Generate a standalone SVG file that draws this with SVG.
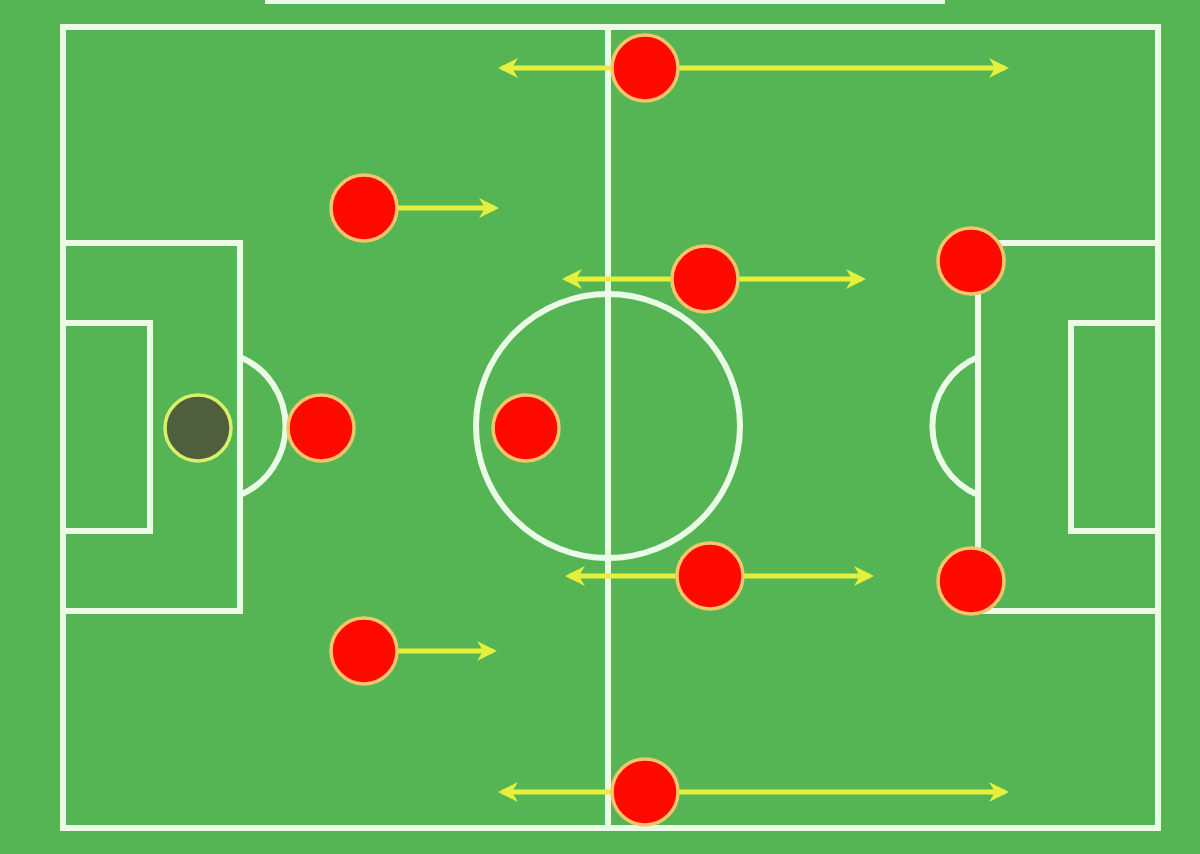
<svg xmlns="http://www.w3.org/2000/svg" width="1200" height="854" viewBox="0 0 1200 854">
<style>
.line{fill:none;stroke:#eafbe6;stroke-width:6}
.arrow{fill:none;stroke:#e4f03c;stroke-width:5}
.player{fill:#ff0a00;stroke:#f3c66a;stroke-width:3.5}
.gk{fill:#4f5e3c;stroke:#d9f06a;stroke-width:3.5}
</style>
<defs>
<marker id="ah" viewBox="0 0 10 10" refX="8" refY="5" markerWidth="4" markerHeight="4" orient="auto-start-reverse" markerUnits="strokeWidth">
<path d="M0,0 L10,5 L0,10 L3,5 Z" fill="#e4f03c"/>
</marker>
</defs>
<rect x="0" y="0" width="1200" height="854" fill="#55b454"/>
<rect x="265" y="0" width="680" height="4" fill="#eafbe6"/>
<g id="pitch">
<rect class="line" x="63" y="27" width="1095" height="801"/>
<line class="line" x1="608" y1="27" x2="608" y2="828"/>
<circle class="line" cx="608" cy="426" r="132"/>
<rect class="line" x="63" y="243" width="177" height="368"/>
<rect class="line" x="63" y="323" width="87" height="208"/>
<path class="line" d="M240,357 A75,75 0 0 1 240,495"/>
<rect class="line" x="978" y="243" width="180" height="368"/>
<rect class="line" x="1071" y="323" width="87" height="208"/>
<path class="line" d="M978,357 A75,75 0 0 0 978,495"/>
</g>
<g id="connectors">
<line class="arrow" x1="502" y1="68" x2="1005" y2="68" marker-start="url(#ah)" marker-end="url(#ah)"/>
<line class="arrow" x1="398" y1="208" x2="495" y2="208" marker-end="url(#ah)"/>
<line class="arrow" x1="566" y1="279" x2="862" y2="279" marker-start="url(#ah)" marker-end="url(#ah)"/>
<line class="arrow" x1="569" y1="576" x2="870" y2="576" marker-start="url(#ah)" marker-end="url(#ah)"/>
<line class="arrow" x1="398" y1="651" x2="493" y2="651" marker-end="url(#ah)"/>
<line class="arrow" x1="502" y1="792" x2="1005" y2="792" marker-start="url(#ah)" marker-end="url(#ah)"/>
</g>
<g id="gk"><circle class="gk" cx="198" cy="428" r="33"/></g>
<g id="p1"><circle class="player" cx="645" cy="68" r="33"/></g>
<g id="p2"><circle class="player" cx="364" cy="208" r="33"/></g>
<g id="p3"><circle class="player" cx="705" cy="279" r="33"/></g>
<g id="p4"><circle class="player" cx="971" cy="261" r="33"/></g>
<g id="p5"><circle class="player" cx="321" cy="428" r="33"/></g>
<g id="p6"><circle class="player" cx="526" cy="428" r="33"/></g>
<g id="p7"><circle class="player" cx="710" cy="576" r="33"/></g>
<g id="p8"><circle class="player" cx="971" cy="581" r="33"/></g>
<g id="p9"><circle class="player" cx="364" cy="651" r="33"/></g>
<g id="p10"><circle class="player" cx="645" cy="792" r="33"/></g>
</svg>
